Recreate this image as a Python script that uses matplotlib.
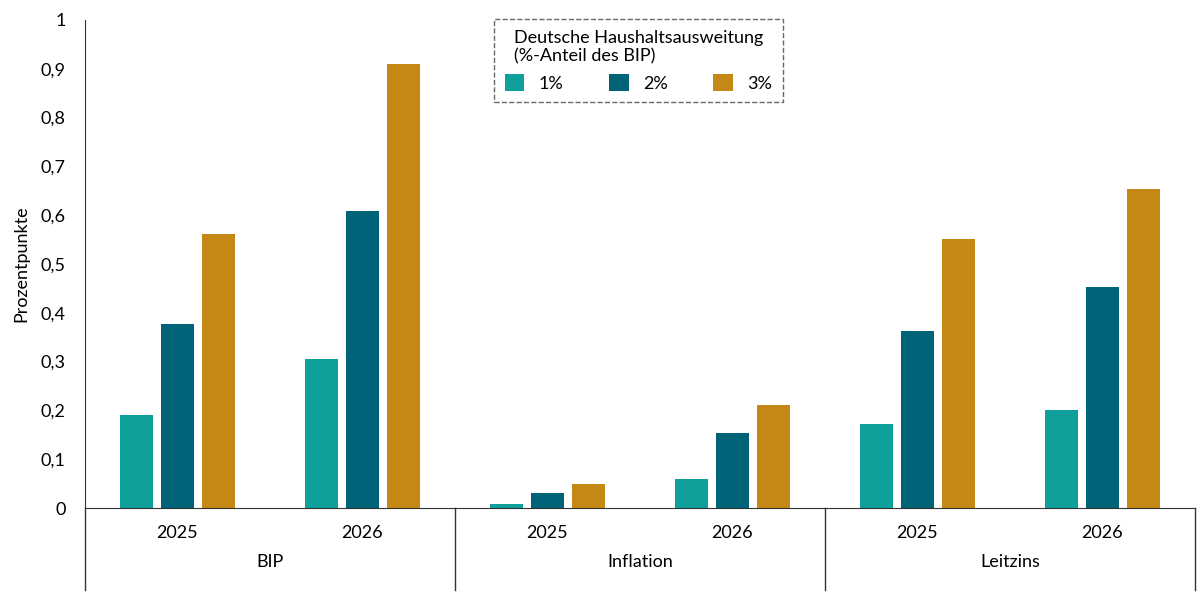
import numpy as np
import matplotlib.pyplot as plt
import matplotlib.transforms as mtransforms

plt.rcParams['font.family'] = 'Lato'

groups = ['BIP', 'Inflation', 'Leitzins']
years = ['2025', '2026']
series = ['1%', '2%', '3%']
colors = ['#0fa09c', '#006478', '#c58816']
# values per series: BIP25, BIP26, Infl25, Infl26, Leit25, Leit26
v1 = [0.19, 0.305, 0.008, 0.059, 0.172, 0.20]
v2 = [0.377, 0.609, 0.03, 0.154, 0.363, 0.453]
v3 = [0.561, 0.91, 0.049, 0.211, 0.551, 0.654]
vals = [v1, v2, v3]

fig = plt.figure(figsize=(12, 6), dpi=100)
ax = fig.add_axes([0.0708, 0.1533, 0.925, 0.8134])

centers = np.arange(6) + 0.5
w = 0.178
off = 0.222
handles = []
for i, (s, c, v) in enumerate(zip(series, colors, vals)):
    h = ax.bar(centers + (i - 1) * off, v, width=w, color=c, label=s)
    handles.append(h)

ax.set_xlim(0, 6)
ax.set_ylim(0, 1)
ax.set_yticks(np.arange(0, 1.01, 0.1))
ax.set_yticklabels(['0'] + [f'{t:.1f}'.replace('.', ',') for t in np.arange(0.1, 0.95, 0.1)] + ['1'])
ax.tick_params(axis='y', length=0, labelsize=13, pad=14)
ax.set_xticks([])
for sp in ['top', 'right']:
    ax.spines[sp].set_visible(False)
ax.spines['bottom'].set_color('#333333')
ax.spines['left'].set_color('#333333')
ax.spines['left'].set_bounds(0, 1)
ax.set_ylabel('Prozentpunkte', fontsize=13, labelpad=8)

trans = mtransforms.blended_transform_factory(ax.transData, ax.transAxes)
# left axis extension and group separators
for x in [0, 2, 4, 6]:
    ax.plot([x, x], [0, -0.167], transform=trans, color='#333333', lw=1, clip_on=False)
for k, c in enumerate(centers):
    ax.text(c, -0.052, years[k % 2], transform=trans, ha='center', va='center', fontsize=13)
for g, name in enumerate(groups):
    ax.text(2 * g + 1, -0.111, name, transform=trans, ha='center', va='center', fontsize=13)

leg = fig.legend(handles=handles, labels=series, ncol=3, loc='upper center',
                 bbox_to_anchor=(0.532, 0.983), fontsize=13, title_fontsize=13,
                 title='Deutsche Haushaltsausweitung\n(%-Anteil des BIP)',
                 handlelength=1.1, handleheight=1.1, columnspacing=2.5,
                 fancybox=False, edgecolor='#444444', borderpad=0.6)
leg.get_frame().set_linestyle('--')
leg.get_frame().set_linewidth(1)

fig.savefig('out.png')
